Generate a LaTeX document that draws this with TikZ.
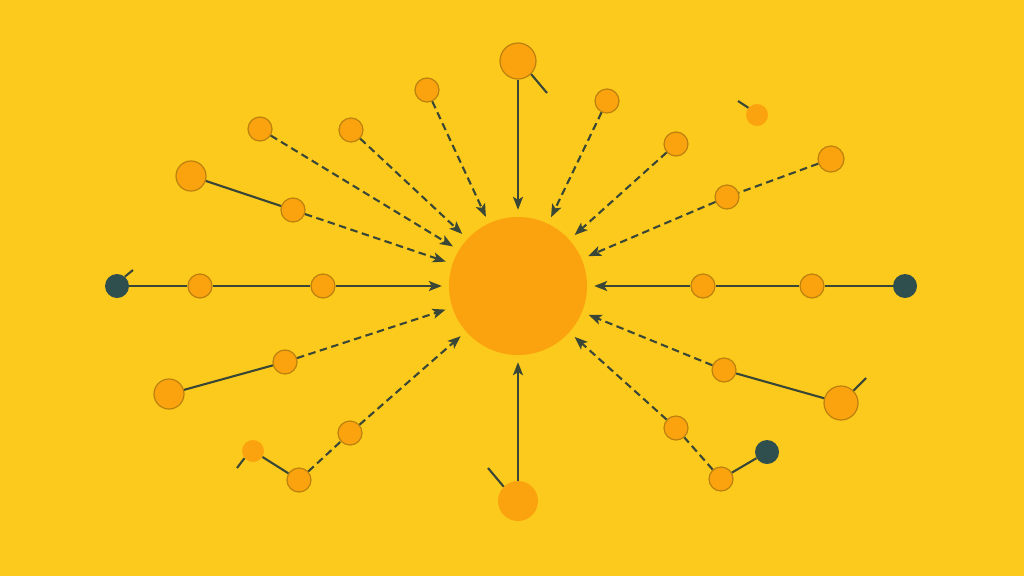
\documentclass[tikz,border=0pt]{standalone}
\usetikzlibrary{arrows.meta}
\definecolor{bg}{HTML}{FCCA1C}
\definecolor{orng}{HTML}{FBA30E}
\definecolor{orngb}{HTML}{BC800F}
\definecolor{lnc}{HTML}{3A4736}
\definecolor{darkn}{HTML}{2F4F4F}
\tikzset{
  dot/.style={circle, fill=orng, draw=orngb, line width=1.2pt, inner sep=0pt, minimum size=#1},
  pdot/.style={circle, fill=orng, draw=none, inner sep=0pt, minimum size=#1},
  ddot/.style={circle, fill=darkn, draw=none, inner sep=0pt, minimum size=#1},
  ln/.style={draw=lnc, line width=2.1pt},
  dln/.style={ln, dash pattern=on 7.5pt off 4.5pt},
  arr/.style={-{Stealth[length=13pt,width=10pt,inset=3pt]}, shorten >=7pt},
  tick/.style={draw=lnc, line width=2.1pt}
}
\begin{document}
\begin{tikzpicture}[x=1pt,y=-1pt]
\fill[bg] (0,0) rectangle (1024,576);
\useasboundingbox (0,0) rectangle (1024,576);
% center
\node[circle, fill=orng, inner sep=0pt, minimum size=138pt] (C) at (518,286) {};
% top region
\node[dot=36pt] (t0) at (518,61) {};
\node[dot=24pt] (t1) at (427,90) {};
\node[dot=24pt] (t2) at (607,101) {};
\node[dot=24pt] (t3) at (260,129) {};
\node[dot=24pt] (t4) at (351,130) {};
\node[dot=30pt] (t5) at (191,176) {};
\node[dot=24pt] (t6) at (293,210) {};
\node[dot=24pt] (t7) at (676,144) {};
\node[pdot=22pt] (t8) at (757,115) {};
\node[dot=26pt] (t9) at (831,159) {};
\node[dot=24pt] (t10) at (727,197) {};
% horizontal rows
\node[ddot=24pt] (l0) at (117,286) {};
\node[dot=24pt] (l1) at (200,286) {};
\node[dot=24pt] (l2) at (323,286) {};
\node[ddot=24pt] (r0) at (905,286) {};
\node[dot=24pt] (r1) at (812,286) {};
\node[dot=24pt] (r2) at (703,286) {};
% bottom left
\node[dot=30pt] (b0) at (169,394) {};
\node[dot=24pt] (b1) at (285,362) {};
\node[dot=24pt] (b2) at (350,433) {};
\node[dot=24pt] (b3) at (299,480) {};
\node[pdot=22pt] (b4) at (253,451) {};
\node[pdot=40pt] (bot) at (518,501) {};
% bottom right
\node[dot=34pt] (rb0) at (841,403) {};
\node[dot=24pt] (rb1) at (724,370) {};
\node[dot=24pt] (rb2) at (676,428) {};
\node[dot=24pt] (rb3) at (721,479) {};
\node[ddot=24pt] (rb4) at (767,452) {};
% tick ends
\coordinate (k0) at (547,93);
\coordinate (k8) at (738,101);
\coordinate (kl) at (133,270);
\coordinate (kb4) at (237,468);
\coordinate (kbot) at (488,468);
\coordinate (krb) at (866,378);
% ticks
\draw[tick] (t0.-45) -- (k0);
\draw[tick] (t8.140) -- (k8);
\draw[tick] (l0.50) -- (kl);
\draw[tick] (b4.-140) -- (kb4);
\draw[tick] (bot.135) -- (kbot);
\draw[tick] (rb0.45) -- (krb);
% connectors
\draw[ln,arr] (t0) -- (C);
\draw[dln,arr] (t1) -- (C);
\draw[dln,arr] (t2) -- (C);
\draw[dln,arr] (t3) -- (C);
\draw[dln,arr] (t4) -- (C);
\draw[ln] (t5) -- (t6);
\draw[dln,arr] (t6) -- (C);
\draw[dln,arr] (t7) -- (C);
\draw[dln] (t9) -- (t10);
\draw[dln,arr] (t10) -- (C);
\draw[ln] (l0) -- (l1);
\draw[ln] (l1) -- (l2);
\draw[ln,arr] (l2) -- (C);
\draw[ln] (r0) -- (r1);
\draw[ln] (r1) -- (r2);
\draw[ln,arr] (r2) -- (C);
\draw[ln] (b0) -- (b1);
\draw[dln,arr] (b1) -- (C);
\draw[ln] (b4) -- (b3);
\draw[dln] (b3) -- (b2);
\draw[dln,arr] (b2) -- (C);
\draw[ln,arr] (bot) -- (C);
\draw[ln] (rb0) -- (rb1);
\draw[dln,arr] (rb1) -- (C);
\draw[ln] (rb4) -- (rb3);
\draw[dln] (rb3) -- (rb2);
\draw[dln,arr] (rb2) -- (C);
\end{tikzpicture}
\end{document}
